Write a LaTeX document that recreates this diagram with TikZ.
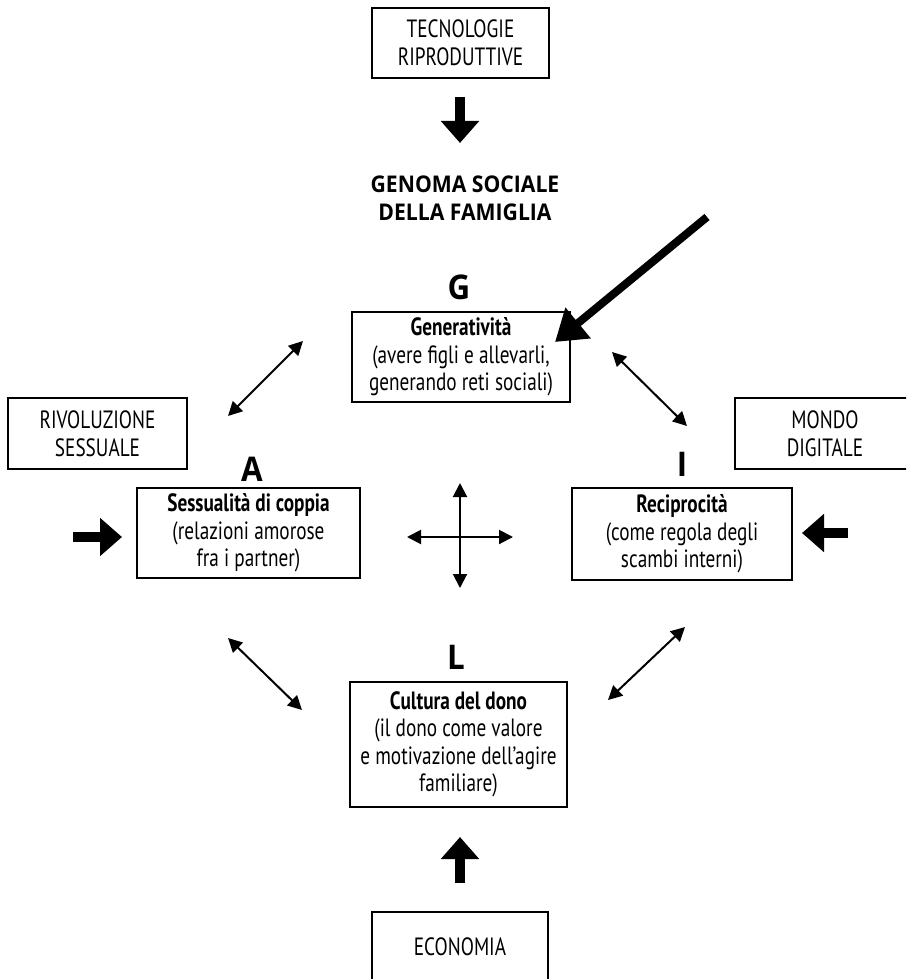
\documentclass[tikz,border=0pt]{standalone}
\usepackage{fontspec}
\usepackage{tikz}
\usetikzlibrary{arrows.meta,positioning}
\newfontfamily\boxfont[FakeStretch=0.77]{PT Sans}
\newfontfamily\headfont[FakeStretch=0.92]{Open Sans}

\begin{document}
\begin{tikzpicture}[x=1pt,y=-1pt,
    framebox/.style={draw,line width=1.2pt,inner sep=0pt,align=center,
      font=\boxfont\fontsize{25}{27.5}\selectfont},
    letter/.style={anchor=base,font=\headfont\bfseries\fontsize{34}{34}\selectfont},
    bigarrow/.style={line width=10pt,-{Triangle[length=22pt,width=37pt]}},
    longarrow/.style={line width=8pt,-{Triangle[length=30pt,width=38pt]}},
    thinarrow/.style={line width=2pt,{Triangle[length=14pt,width=14pt]}-{Triangle[length=14pt,width=14pt]}}]
  \useasboundingbox (0,0) rectangle (906,979);
  \clip (0,0) rectangle (906,979);

  % outside forces
  \node[framebox,minimum width=177pt,minimum height=70pt] (tecno) at (460.5,43) {TECNOLOGIE\\RIPRODUTTIVE};
  \node[framebox,minimum width=179pt,minimum height=71pt] (rivol) at (97.5,433.5) {RIVOLUZIONE\\SESSUALE};
  \node[framebox,minimum width=180pt,minimum height=71pt] (mondo) at (825,433.5) {MONDO\\DIGITALE};
  \node[framebox,minimum width=176pt,minimum height=70pt] (econ) at (460,947) {ECONOMIA};

  \node[align=center,font=\headfont\bfseries\fontsize{23}{28}\selectfont] (genoma) at (465,198) {GENOMA SOCIALE\\DELLA FAMIGLIA};

  % AGIL
  \node[letter] (lG) at (459,299) {G};
  \node[letter] (lA) at (252,481) {A};
  \node[letter] (lI) at (682,476) {I};
  \node[letter] (lL) at (456,669) {L};

  \node[framebox,minimum width=218pt,minimum height=90pt] (gen) at (461,357)
    {\textbf{Generatività}\\(avere figli e allevarli,\\generando reti sociali)};
  \node[framebox,minimum width=223pt,minimum height=90pt] (sess) at (248.5,533)
    {\textbf{Sessualità di coppia}\\(relazioni amorose\\fra i partner)};
  \node[framebox,minimum width=220pt,minimum height=92pt] (reci) at (682,534)
    {\textbf{Reciprocità}\\(come regola degli\\scambi interni)};
  \node[framebox,minimum width=217pt,minimum height=125pt] (cult) at (458.5,744.5)
    {\textbf{Cultura del dono}\\(il dono come valore\\e motivazione dell’agire\\familiare)};

  % arrow ends
  \coordinate (tecS) at (460,97);   \coordinate (tecT) at (460,143);
  \coordinate (ecoS) at (460,883);  \coordinate (ecoT) at (460,837);
  \coordinate (rivS) at (73,537);   \coordinate (rivT) at (122,537);
  \coordinate (monS) at (848,533);  \coordinate (monT) at (802,533);
  \coordinate (genS) at (707,217);  \coordinate (genT) at (555,342);
  \coordinate (ga1) at (303,341);   \coordinate (ga2) at (228,416);
  \coordinate (gi1) at (612,352);   \coordinate (gi2) at (687,426);
  \coordinate (la1) at (228,638);   \coordinate (la2) at (302,710);
  \coordinate (li1) at (685,627);   \coordinate (li2) at (608,700);
  \coordinate (crN) at (460,483);   \coordinate (crS) at (460,588);
  \coordinate (crW) at (407,537);   \coordinate (crE) at (513,537);

  \draw[bigarrow] (tecS) -- (tecT);
  \draw[bigarrow] (ecoS) -- (ecoT);
  \draw[bigarrow] (rivS) -- (rivT);
  \draw[bigarrow] (monS) -- (monT);
  \draw[longarrow] (genS) -- (genT);

  \draw[thinarrow] (ga1) -- (ga2);
  \draw[thinarrow] (gi1) -- (gi2);
  \draw[thinarrow] (la1) -- (la2);
  \draw[thinarrow] (li1) -- (li2);
  \draw[thinarrow] (crN) -- (crS);
  \draw[thinarrow] (crW) -- (crE);
\end{tikzpicture}
\end{document}
